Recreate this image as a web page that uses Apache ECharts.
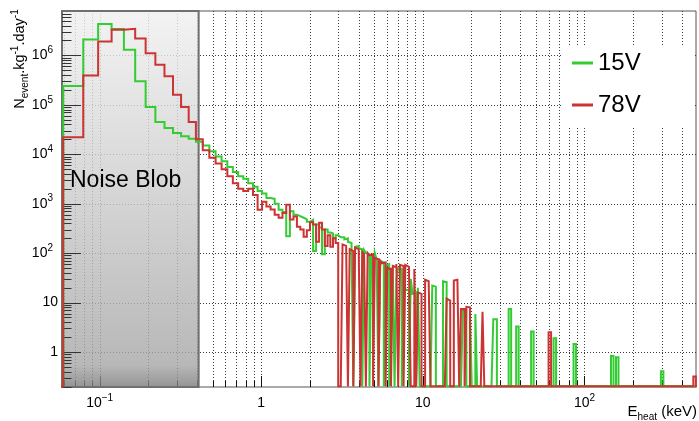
<!DOCTYPE html>
<html>
<head>
<meta charset="utf-8">
<script src="https://cdn.jsdelivr.net/npm/echarts@6/dist/echarts.min.js"></script>
<style>
  html, body { margin: 0; padding: 0; background: #fff; }
  #chart { width: 699px; height: 421px; }
</style>
</head>
<body>
<div id="chart"></div>
<script>
const FONT = 'Liberation Sans, Arial, sans-serif'
const GREEN = '#33cc33'
const RED = '#cc3333'

// axis ranges (keV / events per kg per day)
const X_MIN = 0.0585
const X_MAX = 490
const Y_MIN = 0.196
const Y_MAX = 7.9e6
const BLOB_MAX = 0.41 // right edge of the noise blob band

// tick labels
const xTickValues = [0.1, 1, 10, 100]
const xTickLabels = ['10^−1', '1', '10', '10^2']
const yTickValues = [1, 10, 100, 1e3, 1e4, 1e5, 1e6]
const yTickLabels = ['1', '10', '10^2', '10^3', '10^4', '10^5', '10^6']

// binning: sqrt spaced at low energy, log spaced above ~3 keV (finer up to ~30 keV)
const firstEdges = [0.05, 0.0595]
const sqrtStart = 0.2814
const sqrtStep = 0.0315
const nSqrtEdges = 48
const fineLogStep = 1.0259
const nFineLogBins = 88
const coarseLogStep = 1.0362

// bin contents, 15V
const green15V = [
  0, 2.4e5, 2.1e6, 4.3e6, 3.4e6, 1.3e6, 3.0e5, 9e4, 4.5e4, 3.4e4, 2.7e4, 2.3e4, 2.05e4,
  1.8e4, 1.5e4, 1.15e4, 9e3, 7.2e3, 5.5e3, 4.4e3, 3.6e3, 3.2e3, 2.6e3, 2.2e3, 1.8e3,
  1.6e3, 1.3e3, 1.25e3, 1.0e3, 750, 680, 220, 700, 600, 560, 520, 480,
  430, 470, 110, 380, 330, 95, 300, 260, 250, 200, 230, 210,
  220, 210, 190, 200, 170, 160, 150, 0, 135, 140, 125, 120, 0, 115, 100, 95,
  0, 90, 85, 100, 75, 0, 70, 65, 0, 55, 60, 0, 45, 50, 0, 30,
  50, 48, 0, 40, 18, 18, 0, 30, 15, 16, 0, 20, 0, 0, 0, 0,
  0, 0, 0, 22, 21, 0, 0, 0, 0, 27, 26, 0, 0, 0, 0, 0,
  0, 0, 0, 0, 7, 7, 0, 0, 6.2, 0, 0, 5.9, 0, 0, 0, 0,
  0, 0, 0, 0, 0, 4.6, 4.6, 0
]
// bin contents, 78V
const red78V = [
  0, 2.2e4, 3.9e5, 1.9e6, 3.3e6, 3.45e6, 2.2e6, 1.1e6, 6.5e5, 3.8e5, 1.6e5, 9e4, 4.5e4,
  2.0e4, 1.2e4, 8.5e3, 6.5e3, 5.0e3, 3.6e3, 2.6e3, 2.0e3, 1.8e3, 2.0e3, 1.5e3, 750,
  1.1e3, 880, 760, 600, 520, 650, 950, 480, 550, 340, 300, 215,
  290, 420, 380, 170, 410, 300, 140, 230, 135, 200, 160, 0,
  0, 150, 140, 135, 0, 120, 110, 0, 130, 120, 125, 0, 105, 95, 0, 100,
  90, 95, 0, 80, 75, 0, 70, 62, 65, 0, 50, 48, 0, 55, 52, 60,
  0, 58, 55, 0, 58, 53, 50, 0, 0, 48, 0, 16, 15, 0, 0, 29,
  27, 28, 0, 0, 0, 0, 0, 0, 0, 0, 0, 12, 11, 0, 0, 28,
  29, 27, 0, 7.4, 7.4, 0, 8.2, 8, 0, 0, 0, 0, 0, 0, 0, 6.5,
  0, 0, 0, 0, 0, 0, 0, 0
]
// isolated high energy bins (keV, value)
const green15VTailE = [34.6, 38.6, 47.9, 66.3, 88.2, 149, 158, 303]
const green15VTailV = [7.4, 3.3, 2.6, 1.9, 1.45, 0.83, 0.78, 0.41]
const red78VTailE = [60.2, 487]
const red78VTailV = [2.5, 0.32]

// bin edges
const edges = firstEdges.slice()
for (let k = 0; k < nSqrtEdges; k++) edges.push(Math.pow(sqrtStart + sqrtStep * k, 2))
for (let k = 0; k < nFineLogBins; k++) edges.push(edges[edges.length - 1] * fineLogStep)
while (edges[edges.length - 1] < X_MAX * 1.05) edges.push(edges[edges.length - 1] * coarseLogStep)

// step outline of a histogram, empty bins sit on the axis floor
const FLOOR = Y_MIN * 1.03
function histData (vals, tailE, tailV) {
  const n = edges.length - 1
  const c = []
  for (let i = 0; i < n; i++) c.push(i < vals.length ? vals[i] : 0)
  tailE.forEach((e, j) => {
    for (let i = 0; i < n; i++) {
      if (e >= edges[i] && e < edges[i + 1]) { c[i] = tailV[j]; break }
    }
  })
  const pts = []
  for (let i = 0; i < n; i++) {
    const y = c[i] > 0 ? c[i] : FLOOR
    pts.push([edges[i], y], [edges[i + 1], y])
  }
  return pts
}

// all decade + 2..9 ticks inside a range
function logTicks (lo, hi, d0, d1) {
  const out = []
  for (let d = d0; d <= d1; d++) {
    for (let m = 1; m <= 9; m++) {
      const v = m * Math.pow(10, d)
      if (v > lo * 1.0001 && v < hi * 0.9999) out.push([v, m === 1 ? 1 : 0])
    }
  }
  return out
}
const xTicks = logTicks(X_MIN, X_MAX, -2, 2)
const yTicks = logTicks(Y_MIN, Y_MAX, -1, 6)

function tickLabel (values, labels) {
  return function (v) {
    for (let i = 0; i < values.length; i++) {
      if (Math.abs(Math.log10(v) - Math.log10(values[i])) < 1e-6) {
        const p = labels[i].split('^')
        return p.length > 1 ? '{b|' + p[0] + '}{s|' + p[1] + '}' : '{b|' + p[0] + '}'
      }
    }
    return ''
  }
}

const snap = v => Math.round(v) + 0.5
const dotted = { stroke: '#3a3a3a', lineWidth: 1, lineDash: [1, 2] }

const labelRich = (sPad) => ({
  b: { fontSize: 14, fontFamily: FONT, color: '#000', lineHeight: 20 },
  s: { fontSize: 10, fontFamily: FONT, color: '#000', lineHeight: 10, verticalAlign: 'top', padding: sPad }
})

const myChart = echarts.init(document.getElementById('chart'))

const options = {
  animation: false,
  grid: {
    show: true,
    left: 62,
    right: 2,
    top: 11,
    bottom: 34,
    borderColor: '#555',
    borderWidth: 1,
    backgroundColor: '#fff'
  },
  legend: {
    data: ['15V', '78V'],
    orient: 'vertical',
    left: 563,
    top: 45,
    padding: [4, 53, 8, 9],
    itemGap: 14,
    itemWidth: 21,
    itemHeight: 3,
    icon: 'rect',
    selectedMode: false,
    backgroundColor: '#fff',
    textStyle: { fontSize: 24, lineHeight: 28, fontFamily: FONT, color: '#000' }
  },
  xAxis: {
    type: 'log',
    logBase: 10,
    min: X_MIN,
    max: X_MAX,
    splitNumber: 5,
    axisLine: { show: false },
    axisTick: { show: false },
    splitLine: { show: false },
    axisLabel: {
      margin: 6,
      formatter: tickLabel(xTickValues, xTickLabels),
      rich: labelRich([0, 0, 0, 0])
    }
  },
  yAxis: {
    type: 'log',
    logBase: 10,
    min: Y_MIN,
    max: Y_MAX,
    splitNumber: 8,
    axisLine: { show: false },
    axisTick: { show: false },
    splitLine: { show: false },
    axisLabel: {
      margin: 4,
      formatter: tickLabel(yTickValues, yTickLabels),
      rich: labelRich([0, 5, 0, 0])
    }
  },
  graphic: [
    {
      type: 'text',
      x: 70,
      y: 181,
      z: 100,
      style: { text: 'Noise Blob', fontSize: 23, fontFamily: FONT, fill: '#000', verticalAlign: 'middle', align: 'left' }
    },
    {
      type: 'text',
      x: 20,
      y: 59,
      rotation: Math.PI / 2,
      z: 100,
      style: {
        text: '{b|N}{sub|event}{b|.kg}{sup|-1}{b|.day}{sup|-1}',
        align: 'center',
        verticalAlign: 'middle',
        rich: {
          b: { fontSize: 14.5, fontFamily: FONT, fill: '#000', lineHeight: 20 },
          sub: { fontSize: 10, fontFamily: FONT, fill: '#000', lineHeight: 10, verticalAlign: 'bottom' },
          sup: { fontSize: 10, fontFamily: FONT, fill: '#000', lineHeight: 10, verticalAlign: 'top' }
        }
      }
    },
    {
      type: 'text',
      x: 697,
      y: 412,
      z: 100,
      style: {
        text: '{b|E}{sub|heat}{b| (keV)}',
        align: 'right',
        verticalAlign: 'middle',
        rich: {
          b: { fontSize: 15, fontFamily: FONT, fill: '#000', lineHeight: 20 },
          sub: { fontSize: 10, fontFamily: FONT, fill: '#000', lineHeight: 10, verticalAlign: 'bottom' }
        }
      }
    }
  ],
  series: [
    { // dotted grid, vertical at every tick
      name: 'vgrid',
      type: 'custom',
      silent: true,
      z: 1,
      data: xTicks.map(t => [t[0], Y_MIN]),
      encode: { x: 0, y: 1 },
      renderItem: (params, api) => {
        const a = api.coord([api.value(0), Y_MIN])
        const b = api.coord([api.value(0), Y_MAX])
        const px = snap(a[0])
        return { type: 'line', shape: { x1: px, y1: a[1], x2: px, y2: b[1] }, style: dotted }
      }
    },
    { // dotted grid, horizontal at decades
      name: 'hgrid',
      type: 'custom',
      silent: true,
      z: 1,
      data: yTicks.filter(t => t[1] === 1).map(t => [X_MIN, t[0]]),
      encode: { x: 0, y: 1 },
      renderItem: (params, api) => {
        const a = api.coord([X_MIN, api.value(1)])
        const b = api.coord([X_MAX, api.value(1)])
        const py = snap(a[1])
        return { type: 'line', shape: { x1: a[0], y1: py, x2: b[0], y2: py }, style: dotted }
      }
    },
    { // x ticks, pointing up
      name: 'xticks',
      type: 'custom',
      silent: true,
      z: 1,
      data: xTicks.map(t => [t[0], Y_MIN, t[1]]),
      encode: { x: 0, y: 1 },
      renderItem: (params, api) => {
        const a = api.coord([api.value(0), Y_MIN])
        const len = api.value(2) ? 11 : 6
        const px = snap(a[0])
        return { type: 'line', shape: { x1: px, y1: a[1], x2: px, y2: a[1] - len }, style: { stroke: '#111', lineWidth: 1 } }
      }
    },
    { // noise blob band
      name: 'blob',
      type: 'custom',
      silent: true,
      z: 2,
      data: [[X_MIN, Y_MIN, BLOB_MAX, Y_MAX]],
      encode: { x: [0, 2], y: [1, 3] },
      renderItem: (params, api) => {
        const p0 = api.coord([api.value(0), api.value(3)])
        const p1 = api.coord([api.value(2), api.value(1)])
        return {
          type: 'rect',
          shape: { x: p0[0], y: p0[1], width: p1[0] - p0[0], height: p1[1] - p0[1] },
          style: {
            fill: new echarts.graphic.LinearGradient(0, 0, 0, 1, [
              { offset: 0, color: 'rgba(240,240,240,0.8)' },
              { offset: 0.5, color: 'rgba(202,202,202,0.8)' },
              { offset: 0.94, color: 'rgba(166,166,166,0.8)' },
              { offset: 1, color: 'rgba(120,120,120,0.8)' }
            ]),
            stroke: '#707070',
            lineWidth: 2
          }
        }
      }
    },
    { // y ticks, pointing right, on top of the band
      name: 'yticks',
      type: 'custom',
      silent: true,
      z: 3,
      data: yTicks.map(t => [X_MIN, t[0], t[1]]),
      encode: { x: 0, y: 1 },
      renderItem: (params, api) => {
        const a = api.coord([X_MIN, api.value(1)])
        const len = api.value(2) ? 19 : 9.5
        const py = snap(a[1])
        return { type: 'line', shape: { x1: a[0], y1: py, x2: a[0] + len, y2: py }, style: { stroke: '#333', lineWidth: 1 } }
      }
    },
    {
      name: '15V',
      type: 'line',
      z: 4,
      symbol: 'none',
      clip: true,
      data: histData(green15V, green15VTailE, green15VTailV),
      lineStyle: { color: GREEN, width: 2, join: 'miter' },
      itemStyle: { color: GREEN }
    },
    {
      name: '78V',
      type: 'line',
      z: 5,
      symbol: 'none',
      clip: true,
      data: histData(red78V, red78VTailE, red78VTailV),
      lineStyle: { color: RED, width: 2, join: 'miter' },
      itemStyle: { color: RED }
    }
  ]
}
myChart.setOption(options)
</script>
</body>
</html>
